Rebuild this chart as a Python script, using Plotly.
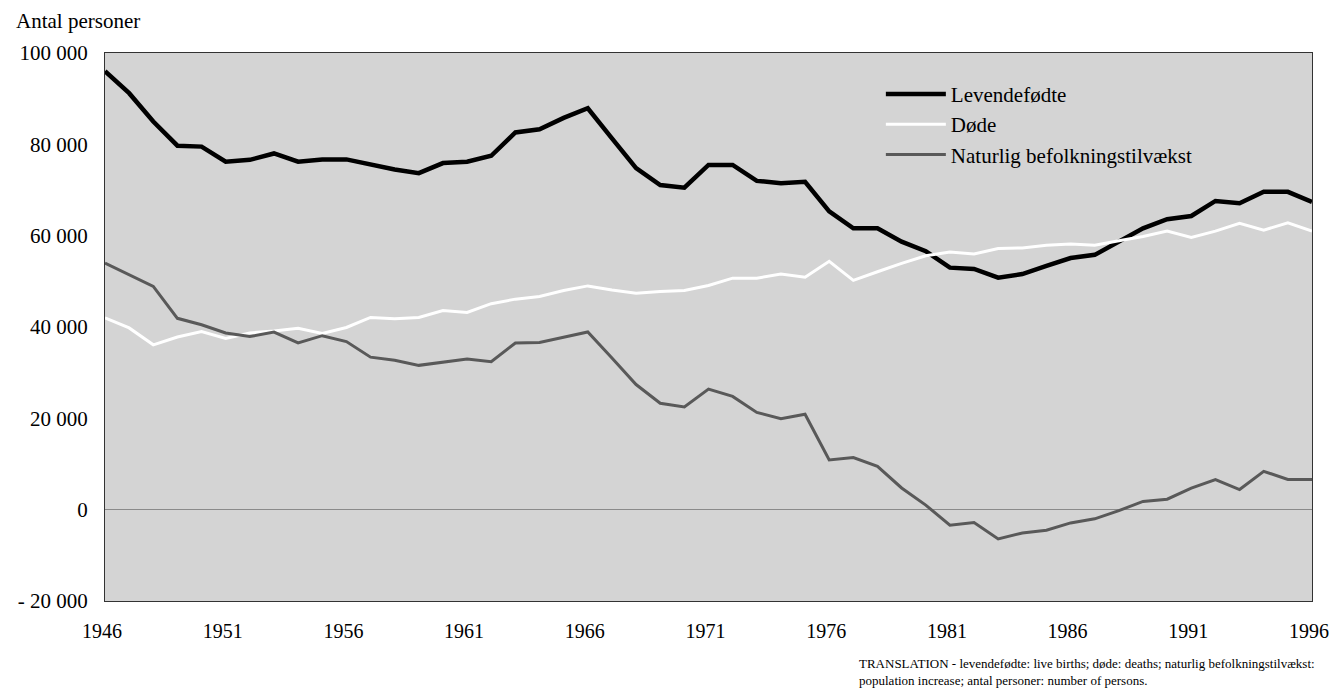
"""Levendefødte, døde og naturlig befolkningstilvækst, 1946-1996 (Plotly)."""

import plotly.graph_objects as go

years = list(range(1946, 1997))

levendefodte = [
    96000, 91200, 85000, 79700, 79500, 76200, 76600, 78000, 76200, 76700,
    76700, 75500, 74500, 73700, 75900, 76200, 77500, 82600, 83300, 85800,
    87900, 81300, 74800, 71100, 70500, 75500, 75500, 72000, 71500, 71800,
    65300, 61600, 61600, 58700, 56600, 53000, 52700, 50800, 51600, 53400,
    55100, 55800, 58700, 61600, 63600, 64300, 67600, 67100, 69600, 69600,
    67400,
]

dode = [
    42000, 39800, 36100, 37800, 39000, 37500, 38700, 39100, 39700, 38600,
    39900, 42100, 41800, 42100, 43600, 43200, 45100, 46100, 46700, 48000,
    49000, 48100, 47400, 47800, 48000, 49100, 50700, 50700, 51600, 50900,
    54400, 50200, 52100, 53950, 55600, 56400, 56000, 57200, 57300, 57900,
    58200, 57900, 58900, 59800, 61000, 59600, 61000, 62700, 61200, 62800,
    61000,
]

tilvaekst = [
    54000, 51400, 48900, 41900, 40500, 38700, 37900, 38900, 36500, 38100,
    36800, 33400, 32700, 31600, 32300, 33000, 32400, 36500, 36600, 37800,
    38900, 33200, 27400, 23300, 22500, 26400, 24800, 21300, 19900, 20900,
    10900, 11400, 9500, 4750, 1000, -3400, -2800, -6400, -5100, -4500,
    -2900, -2000, -200, 1800, 2300, 4700, 6600, 4400, 8400, 6600,
    6600,
]

y_ticks = [-20000, 0, 20000, 40000, 60000, 80000, 100000]
y_labels = ["- 20 000", "0", "20 000", "40 000", "60 000", "80 000", "100 000"]
x_ticks = list(range(1946, 1997, 5))

SERIF = "Liberation Serif, Times New Roman, serif"

series = [
    ("Levendefødte", levendefodte, "#000000", 4.5),
    ("Døde", dode, "#ffffff", 3),
    ("Naturlig befolkningstilvækst", tilvaekst, "#595959", 3),
]

fig = go.Figure()

for name, values, color, width in series:
    fig.add_trace(
        go.Scatter(
            x=years,
            y=values,
            mode="lines",
            name=name,
            line={"color": color, "width": width},
        )
    )

# Siden har 8 px body-margen; margerne er trukket tilsvarende fra.
fig.update_layout(
    width=1330,
    height=681,
    margin={"l": 97, "r": 26, "t": 45, "b": 88},
    paper_bgcolor="#ffffff",
    plot_bgcolor="#d4d4d4",
    font={"family": SERIF, "size": 21, "color": "#000000"},
    showlegend=True,
    legend={
        "x": 0.6428,
        "y": 0.962,
        "xanchor": "left",
        "yanchor": "top",
        "bgcolor": "rgba(0,0,0,0)",
        "font": {"family": SERIF, "size": 21},
        "itemwidth": 60,
        "tracegroupgap": 0,
    },
    annotations=[
        {
            "text": "Antal personer",
            "xref": "paper",
            "yref": "paper",
            "x": -0.0746,
            "y": 1.0821,
            "xanchor": "left",
            "yanchor": "top",
            "borderpad": 0,
            "showarrow": False,
            "font": {"family": SERIF, "size": 21},
        },
        {
            "text": "TRANSLATION - levendefødte: live births; døde: deaths; "
            "naturlig befolkningstilvækst:<br>"
            "population increase; antal personer: number of persons.",
            "xref": "paper",
            "yref": "paper",
            "x": 0.623,
            "y": -0.1296,
            "xanchor": "left",
            "yanchor": "middle",
            "align": "left",
            "showarrow": False,
            "font": {"family": SERIF, "size": 13},
        },
    ],
)

fig.update_xaxes(
    range=[1946, 1996],
    tickvals=x_ticks,
    ticktext=[str(y) for y in x_ticks],
    tickfont={"family": SERIF, "size": 20},
    showgrid=False,
    zeroline=False,
    showline=True,
    linecolor="#333333",
    linewidth=1,
    mirror=True,
    ticks="",
    ticklabelstandoff=12,
    ticklabelshift=-3,
    ticklabeloverflow="allow",
    automargin=False,
)

fig.update_yaxes(
    range=[-20000, 100000],
    tickvals=y_ticks,
    ticktext=y_labels,
    showgrid=False,
    zeroline=True,
    zerolinecolor="#8a8a8a",
    zerolinewidth=1,
    showline=True,
    linecolor="#333333",
    linewidth=1,
    mirror=True,
    ticks="",
    ticklabelstandoff=12,
    automargin=False,
)

fig.write_html("out.html")
